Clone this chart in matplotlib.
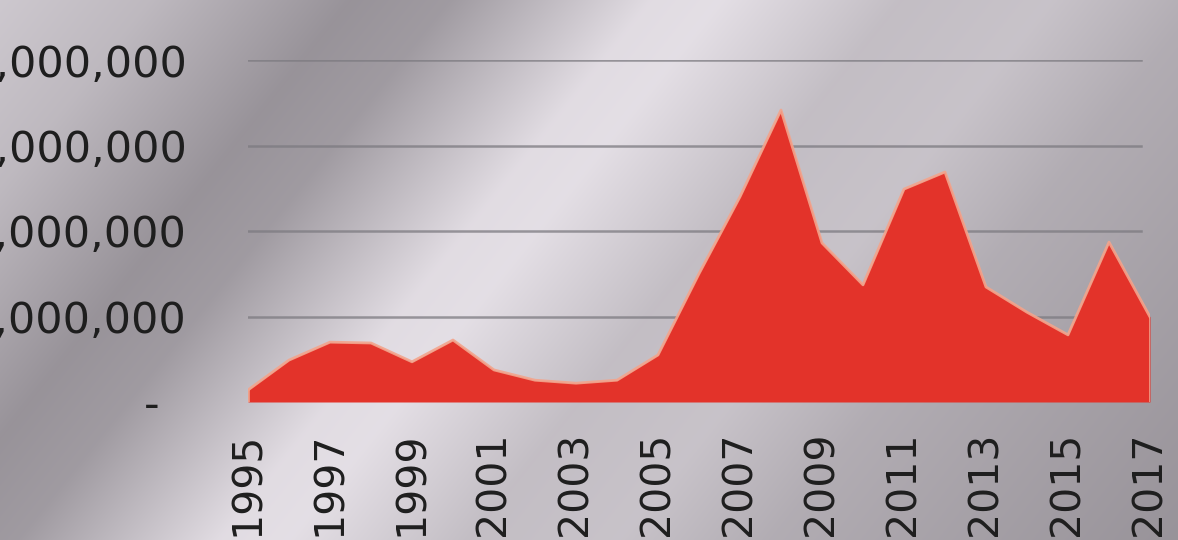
import numpy as np
from matplotlib import pyplot as plt

# yearly values
years = [1995, 1996, 1997, 1998, 1999, 2000, 2001, 2002, 2003, 2004, 2005, 2006,
         2007, 2008, 2009, 2010, 2011, 2012, 2013, 2014, 2015, 2016, 2017]
values = [0.28e6, 0.98e6, 1.40e6, 1.38e6, 0.94e6, 1.45e6, 0.75e6, 0.51e6, 0.44e6, 0.51e6,
          1.10e6, 3.00e6, 4.80e6, 6.83e6, 3.72e6, 2.74e6, 4.98e6, 5.38e6, 2.69e6, 2.10e6,
          1.57e6, 3.74e6, 1.99e6]
xticks = list(range(1995, 2018, 2))
yticks = [0, 2e6, 4e6, 6e6, 8e6]
ylabels = ['-  ', '2,000,000', '4,000,000', '6,000,000', '8,000,000']

W, H = 1178, 540
fig = plt.figure(figsize=(W / 100, H / 100), dpi=100)

# brushed-metal background: grey bands running diagonally
bg = fig.add_axes([0, 0, 1, 1])
yy, xx = np.mgrid[0:H, 0:W]
d = xx + 0.8 * yy
prof_d = [0, 150, 350, 450, 650, 720, 900, 1050, 1200, 1400, 1610]
prof_v = [205, 190, 152, 160, 225, 228, 195, 200, 178, 165, 152]
v = np.interp(d, prof_d, prof_v) / 255.0
img = np.dstack([v, v - 0.02, v + 0.005]).clip(0, 1)
bg.imshow(img, aspect='auto', extent=[0, W, H, 0])
bg.axis('off')

ax = fig.add_axes([248 / W, 1 - 402 / H, (1150 - 248) / W, (402 - 60) / H])
ax.patch.set_alpha(0)
ax.set_xlim(1995, 2017)
ax.set_ylim(0, 8e6)

for g in yticks[1:]:
    ax.axhline(g, xmin=-0.01, xmax=0.99, color='#7c7a80', lw=1.8, alpha=0.75, zorder=1)

ax.fill_between(years, values, 0, color='#e3332a', lw=0, zorder=3)
ax.plot(years, values, color='#f3a48c', lw=2, alpha=0.9, zorder=4)
ax.plot([1995, 1995], [0, values[0]], color='#f3a48c', lw=2, alpha=0.9, zorder=4)
ax.plot([2017, 2017], [0, values[-1]], color='#f3a48c', lw=2, alpha=0.9, zorder=4)
ax.axhline(0, color='#e8f0ea', lw=3, alpha=0.7, zorder=2)

for s in ax.spines.values():
    s.set_visible(False)
ax.set_xticks(xticks)
ax.set_xticklabels([str(y) for y in xticks], rotation=90, fontsize=29.5,
                   family='DejaVu Sans', color='#1e1e1e')
ax.set_yticks(yticks)
ax.set_yticklabels(ylabels, fontsize=31, family='DejaVu Sans', color='#1e1e1e')
ax.tick_params(axis='x', length=0, pad=21)
ax.tick_params(axis='y', length=0, pad=44)

plt.savefig('out.png', dpi=100)
